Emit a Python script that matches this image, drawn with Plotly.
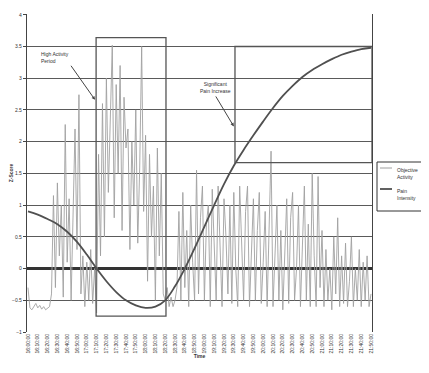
import plotly.graph_objects as go

# ---- data ----
time_labels = [f"{16 + (m // 60)}:{m % 60:02d}:00" for m in range(0, 360, 10)]
label_minutes = list(range(0, 360, 10))

activity = [
    -0.3, -0.62, -0.65, -0.6, -0.55, -0.62, -0.58, -0.64, -0.6, -0.65, -0.63, -0.6,
    -0.4, 1.15, -0.3, 1.35, 0.2,
    1.0, -0.45, 2.27,
    0.1, 1.1, -0.5, 0.9,
    2.2, 0.3, 2.74,
    -0.4, 0.2, -0.6, 0.1, -0.5, 0.3, -0.55, 0.0,
    -0.7, 1.8, 0.2, 2.6, 0.5, 3.0, 1.2, 2.4, 3.52, 0.8, 2.9, 1.5, 3.2, 0.6, 2.7, 1.9,
    2.2, 0.3, 2.0, 1.0, 2.5, 0.4, 1.6, 3.5, 0.9, 2.1, -0.2, 1.8, 0.5, 1.3, -0.5, 1.9,
    0.2, 1.5, -0.4,
    -0.5, -0.3, -0.6, -0.45, -0.6, -0.5, -0.3,
    0.9, -0.5, 1.2, -0.3, 0.6, -0.6, 1.0, 0.1, -0.5, 1.55, -0.4, 0.8, 1.3, -0.5, 0.7,
    1.0, -0.6, 1.25, 0.3, -0.5, 1.3, 0.2, -0.6, 1.1, 0.5, -0.4, 1.0,
    -0.55, 1.2, 0.0, -0.6, 1.3, 0.4, -0.5, 0.9, 1.3, -0.6, 0.2, 1.1, -0.5, 0.6, 1.2,
    -0.55, 0.1, 0.9, -0.6, 0.5,
    1.85, -0.6, 0.3, 1.0, -0.5, 0.6, -0.65, 0.2, 1.1, -0.55, 0.8, 1.2, -0.5, 0.0, 1.0,
    -0.6, 0.4, 1.3, -0.5, 0.7, -0.6, 1.5, 0.2, -0.6, 1.45, -0.3, 0.6,
    -0.6, 0.3, -0.5, 0.0, -0.65, 0.5, -0.4, 0.8, -0.6, 0.2, -0.55, 0.4, -0.6, -0.2,
    0.5, -0.6, 0.0, -0.5, 0.3, -0.6, 0.1,
    -0.5, 0.2, -0.6, -0.4,
]
activity_minutes = [2 * i for i in range(len(activity))]

pain = [
    0.9, 0.85, 0.78, 0.7, 0.58, 0.42, 0.22, 0.0, -0.2, -0.37, -0.5, -0.58,
    -0.62, -0.6, -0.5, -0.28, 0.0, 0.32, 0.66, 1.0, 1.33, 1.62, 1.87, 2.1,
    2.32, 2.53, 2.72, 2.88, 3.02, 3.13, 3.22, 3.3, 3.37, 3.42, 3.46, 3.48,
]
pain_minutes = list(range(0, 360, 10))

series_names = ["Objective<br>Activity", "Pain<br>Intensity"]
series_colors = ["#a0a0a0", "#505050"]

FONT = "Liberation Sans"

fig = go.Figure()
fig.add_trace(go.Scatter(
    x=activity_minutes, y=activity, mode="lines", name=series_names[0],
    line=dict(color=series_colors[0], width=0.9),
))
fig.add_trace(go.Scatter(
    x=pain_minutes, y=pain, mode="lines", name=series_names[1],
    line=dict(color=series_colors[1], width=1.8, shape="spline"),
))

# highlight boxes
fig.add_shape(type="rect", x0=69.5, x1=140.8, y0=-0.75, y1=3.64,
              line=dict(color="#555555", width=1.3), layer="above")
fig.add_shape(type="rect", x0=211.2, x1=351, y0=1.67, y1=3.5,
              line=dict(color="#555555", width=1.3), layer="above")

fig.add_annotation(x=68.4, y=2.66, ax=-24, ay=-34, text="High Activity<br>Period",
                   showarrow=True, arrowhead=2, arrowsize=0.7, arrowwidth=1,
                   arrowcolor="#444", font=dict(size=5, color="#333", family=FONT),
                   align="left", xanchor="right", yanchor="bottom")
fig.add_annotation(x=210, y=2.24, ax=-18, ay=-30, text="Significant<br>Pain Increase",
                   showarrow=True, arrowhead=2, arrowsize=0.7, arrowwidth=1,
                   arrowcolor="#444", font=dict(size=5, color="#333", family=FONT),
                   align="center", xanchor="center", yanchor="bottom")

# page body has an 8px default margin; figure is sized so the plot lands
# at window px 27..372 (x) and 14..332 (y)
OFF = 8


def px_x(p):
    return (p - 27) / 345.0


def px_y(p):
    return (332 - p) / 318.0


# manual legend (paper coordinates)
fig.add_shape(type="rect", xref="paper", yref="paper",
              x0=px_x(377), x1=px_x(428), y0=px_y(211), y1=px_y(162),
              line=dict(color="#333", width=1), fillcolor="white")
for i, (nm, col) in enumerate(zip(series_names, series_colors)):
    ly = 168 + 21 * i
    fig.add_shape(type="line", xref="paper", yref="paper",
                  x0=px_x(380), x1=px_x(392), y0=px_y(ly), y1=px_y(ly),
                  line=dict(color=col, width=1 if i == 0 else 1.8))
    fig.add_annotation(xref="paper", yref="paper", x=px_x(395), y=px_y(ly - 3),
                       text=nm, showarrow=False, xanchor="left", yanchor="top",
                       align="left", font=dict(size=5, color="#333", family=FONT))

fig.update_layout(
    width=429 - OFF, height=373 - OFF,
    margin=dict(l=27 - OFF, r=57, t=14 - OFF, b=41, autoexpand=False),
    paper_bgcolor="white", plot_bgcolor="white",
    font=dict(family=FONT, size=5, color="#333"),
    showlegend=False,
    xaxis=dict(
        range=[-1, 351], tickmode="array", tickvals=label_minutes, ticktext=time_labels,
        tickangle=-90, tickfont=dict(size=5), showgrid=False, zeroline=False,
        showline=False, ticks="", automargin=False,
        title=dict(text="<b>Time</b>", font=dict(size=5), standoff=2),
    ),
    yaxis=dict(
        range=[-1, 4.012], dtick=0.5, tick0=0, showgrid=True, gridcolor="#5a5a5a", gridwidth=1.2,
        zeroline=True, zerolinecolor="#333", zerolinewidth=3,
        showline=True, linecolor="#444", linewidth=1.2, mirror=True,
        ticks="outside", ticklen=3, tickcolor="#444", tickfont=dict(size=5),
        automargin=False,
        title=dict(text="<b>Z-Score</b>", font=dict(size=5), standoff=4),
    ),
)

fig.write_html("out.html")
